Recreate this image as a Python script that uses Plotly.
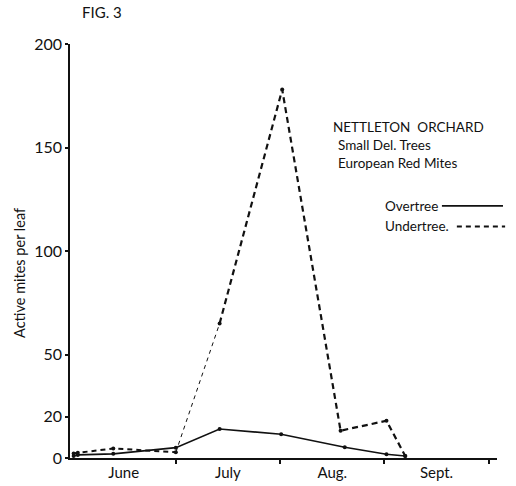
import plotly.graph_objects as go

# x in months since June 1 (0 = Jun 1, 1 = Jul 1, 2 = Aug 1, 3 = Sep 1)
over_x = [0.02, 0.06, 0.40, 1.00, 1.42, 2.01, 2.62, 3.02, 3.20]
over_y = [1.0, 1.5, 2.0, 5.0, 14.0, 11.5, 5.2, 1.8, 1.0]

under_x = [0.02, 0.06, 0.40, 1.00, 1.42, 2.02, 2.58, 3.02, 3.20]
under_y = [2.2, 2.5, 4.6, 2.8, 65.0, 178.0, 13.2, 18.0, 1.0]

month_pos = [0.5, 1.5, 2.5, 3.5]
month_labels = ["June", "July", "Aug.", "Sept."]
month_bounds = [1, 2, 3, 4]
y_ticks = [0, 20, 50, 100, 150, 200]

FONT = "Lato"
INK = "#111111"

fig = go.Figure()

# Overtree (solid)
fig.add_trace(go.Scatter(
    x=over_x, y=over_y, mode="lines+markers",
    line=dict(color=INK, width=1.6),
    marker=dict(color=INK, size=4),
    showlegend=False))

# Undertree (dashed): early part, thin rising part, thick remainder
fig.add_trace(go.Scatter(
    x=under_x[:4], y=under_y[:4], mode="lines+markers",
    line=dict(color=INK, width=2, dash="5px,4px"),
    marker=dict(color=INK, size=4),
    showlegend=False))
fig.add_trace(go.Scatter(
    x=under_x[3:5], y=under_y[3:5], mode="lines",
    line=dict(color=INK, width=1, dash="4px,4px"),
    showlegend=False))
fig.add_trace(go.Scatter(
    x=under_x[4:], y=under_y[4:], mode="lines+markers",
    line=dict(color=INK, width=2.2, dash="6px,4px"),
    marker=dict(color=INK, size=4),
    showlegend=False))

fig.update_layout(
    width=516, height=486,
    margin=dict(l=70, r=19, t=44, b=28),
    paper_bgcolor="white", plot_bgcolor="white",
    font=dict(family=FONT, color=INK),
    xaxis=dict(
        range=[-0.015, 4.08], showgrid=False, zeroline=False,
        automargin=False,
        showline=True, linecolor=INK, linewidth=1.5,
        tickvals=month_pos, ticktext=month_labels, ticks="",
        tickfont=dict(size=15, family=FONT, color=INK),
        minor=dict(tickvals=month_bounds, ticks="outside", ticklen=4,
                   tickwidth=2, tickcolor=INK),
    ),
    yaxis=dict(
        range=[0, 200], showgrid=False, zeroline=False,
        automargin=False,
        showline=True, linecolor=INK, linewidth=1.5,
        tickvals=y_ticks, ticks="outside", ticklen=3, tickwidth=2,
        tickcolor=INK,
        tickfont=dict(size=16, family=FONT, color=INK),
    ),
)

def ann(text, x, y, size, xanchor="left", angle=0):
    fig.add_annotation(text=text, x=x, y=y, xref="paper", yref="paper",
                       xanchor=xanchor, yanchor="middle", showarrow=False,
                       textangle=angle,
                       font=dict(size=size, family=FONT, color=INK))

ann("FIG. 3", 0.075, 1.077, 15, xanchor="center")
ann("NETTLETON  ORCHARD", 0.611, 0.800, 13.5)
ann("Small Del. Trees", 0.623, 0.756, 13.5)
ann("European Red Mites", 0.623, 0.712, 13.5)
ann("Overtree", 0.734, 0.609, 13.5)
ann("Undertree.", 0.734, 0.561, 13.5)
ann("Active mites per leaf", -0.117, 0.447, 14.5, xanchor="center", angle=-90)

fig.add_shape(type="line", xref="paper", yref="paper",
              x0=0.871, x1=1.014, y0=0.609, y1=0.609,
              line=dict(color=INK, width=1.6))
fig.add_shape(type="line", xref="paper", yref="paper",
              x0=0.906, x1=1.019, y0=0.559, y1=0.559,
              line=dict(color=INK, width=2, dash="5px,4px"))

fig.write_html("out.html")
